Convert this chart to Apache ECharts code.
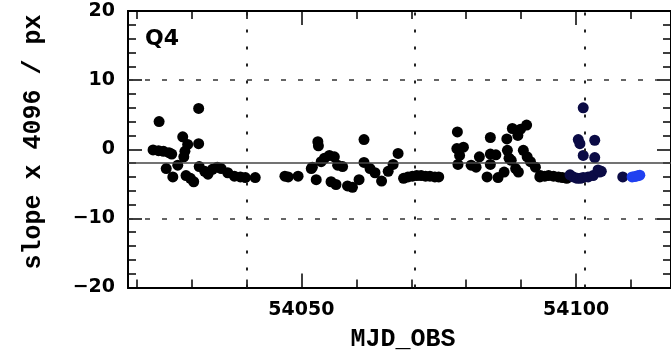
<!DOCTYPE html>
<html>
<head>
<meta charset="utf-8">
<script src="https://cdn.jsdelivr.net/npm/echarts@6/dist/echarts.min.js"></script>
<style>
  html, body { margin: 0; padding: 0; background: #fff; }
  #chart { width: 671px; height: 355px; }
</style>
</head>
<body>
<div id="chart"></div>
<script>
// slope measurements, black points
const blackMjd = [
  54023.0, 54024.0, 54024.1, 54024.9, 54025.9, 54025.4, 54026.6, 54026.4, 54027.5, 54028.4,
  54028.8, 54028.6, 54029.3, 54029.0, 54029.8, 54030.4, 54031.3, 54031.3, 54031.4, 54032.4,
  54033.0, 54033.8, 54034.7, 54035.4, 54036.6, 54037.8, 54038.9, 54039.8, 54041.6,
  54047.0, 54047.6, 54049.4, 54051.8, 54052.0, 54052.7, 54053.0, 54053.1, 54053.6, 54054.2,
  54055.1, 54056.0, 54056.6, 54057.5, 54055.4, 54056.3, 54058.4, 54059.3, 54060.5, 54061.4,
  54061.4, 54062.5, 54063.4, 54064.6, 54065.8, 54066.7, 54067.6,
  54068.6, 54069.4, 54070.2, 54071.0, 54071.8, 54072.6, 54073.4, 54074.3, 54075.0,
  54078.4, 54078.3, 54079.5, 54078.8, 54078.5, 54080.9, 54081.8, 54082.4, 54083.8, 54084.4,
  54084.4, 54084.4, 54085.4, 54085.8, 54086.9, 54087.4, 54087.5, 54087.8, 54088.4, 54089.4,
  54089.9, 54091.0, 54088.2, 54089.0, 54089.5, 54090.4, 54091.1, 54091.7, 54092.6, 54093.4,
  54093.5, 54094.3, 54095.0, 54095.9, 54096.8, 54097.5, 54098.3
];
const blackSlope = [
  -0.1, -0.2, 4.0, -0.3, -0.5, -2.8, -4.0, -0.7, -2.3, 1.8,
  -0.3, -1.1, 0.7, -3.8, -4.2, -4.7, 5.9, 0.8, -2.5, -3.2,
  -3.6, -2.9, -2.6, -2.8, -3.4, -3.9, -4.0, -4.1, -4.1,
  -3.9, -4.0, -3.9, -2.8, -2.6, -4.4, 1.1, 0.5, -1.8, -1.3,
  -0.9, -1.1, -2.3, -2.5, -4.7, -5.1, -5.3, -5.5, -4.4, 1.4,
  -1.9, -2.8, -3.4, -4.6, -3.2, -2.2, -0.6,
  -4.2, -4.0, -3.9, -3.8, -3.8, -3.9, -3.9, -4.0, -4.0,
  2.5, 0.1, 0.3, -0.9, -2.2, -2.3, -2.6, -1.1, -4.0, 1.7,
  -0.7, -2.2, -0.8, -4.1, -3.3, 1.5, -0.15, -1.3, 3.0, 2.0,
  2.9, 3.5, -1.6, -2.8, -3.3, -0.15, -1.1, -1.8, -2.6, -4.0,
  -3.8, -3.9, -3.8, -3.9, -4.0, -4.1, -4.2
];

// dark blue points around the turn of the year
const navyMjd = [
  54098.9, 54099.5, 54100.2, 54100.8, 54101.3, 54102.2, 54103.1, 54104.3, 54104.6,
  54101.3, 54100.4, 54100.7, 54101.3, 54103.4, 54103.4, 54104.0, 54108.5
];
const navySlope = [
  -3.7, -4.0, -4.2, -4.2, -4.1, -4.0, -3.8, -3.3, -3.2,
  6.0, 1.4, 0.8, -0.9, 1.3, -1.2, -3.0, -4.0
];

// bright blue points at the end
const blueMjd = [54110.2, 54110.7, 54111.2, 54111.6];
const blueSlope = [-4.0, -3.95, -3.85, -3.75];

const xMajorTicks = [54050, 54100];
const xMinorTicks = [54020, 54030, 54040, 54060, 54070, 54080, 54090, 54110];
const yTickValues = [-20, -10, 0, 10, 20];
const yTickLabels = ["\u221220", "\u221210", "0", "10", "20"];
const monthLines = [54040.1, 54070.6, 54101.6];
const dashedLevels = [-10, 10];
const medianSlope = -1.9;

const xMin = 54018.44;
const xMax = 54117.28;

const zip = (xs, ys) => xs.map((x, i) => [x, ys[i]]);

const el = document.getElementById("chart");
const chart = echarts.init(el, null, { renderer: "canvas" });

const labelFont = {
  color: "#000",
  fontFamily: "DejaVu Sans",
  fontWeight: "bold",
  fontSize: 19,
};

const frameLine = { show: true, onZero: false, lineStyle: { color: "#000", width: 2 } };

function xAxisDef(position, ticks, len, showLabels) {
  return {
    type: "value",
    position,
    min: xMin,
    max: xMax,
    axisLine: frameLine,
    axisTick: {
      show: true,
      inside: true,
      length: len,
      customValues: ticks,
      lineStyle: { color: "#000", width: 1.5 },
    },
    axisLabel: showLabels
      ? { show: true, customValues: ticks, margin: 13, formatter: (v) => String(Math.round(v)), ...labelFont }
      : { show: false },
    splitLine: { show: false },
  };
}

function yAxisDef(position, showLabels) {
  return {
    type: "value",
    position,
    min: -20,
    max: 20,
    interval: 10,
    axisLine: frameLine,
    axisTick: { show: true, inside: true, length: 14, lineStyle: { color: "#000", width: 1.5 } },
    minorTick: { show: true, splitNumber: 5, length: 8, lineStyle: { color: "#000", width: 1.5 } },
    axisLabel: showLabels
      ? {
          show: true,
          margin: 13,
          formatter: (v) => yTickLabels[yTickValues.indexOf(Math.round(v))] ?? "",
          ...labelFont,
        }
      : { show: false },
    splitLine: { show: false },
  };
}

const refLines = [
  ...monthLines.map((x) => ({ xAxis: x, lineStyle: { type: [3, 14], width: 2, color: "#222" } })),
  ...dashedLevels.map((y) => ({ yAxis: y, lineStyle: { type: [5, 12], width: 1.5, color: "#333" } })),
  { yAxis: medianSlope, lineStyle: { type: "solid", width: 1.5, color: "#444" } },
];

chart.setOption({
  animation: false,
  backgroundColor: "#fff",
  grid: { left: 128, top: 11, width: 549, height: 276.5 },
  xAxis: [
    xAxisDef("bottom", xMinorTicks, 8, false),
    xAxisDef("bottom", xMajorTicks, 14, true),
    xAxisDef("top", xMinorTicks, 8, false),
    xAxisDef("top", xMajorTicks, 14, false),
  ],
  yAxis: [yAxisDef("left", true), yAxisDef("right", false)],
  graphic: [
    {
      type: "text",
      left: 145,
      top: 28,
      style: { text: "Q4", fill: "#000", font: "bold 22px 'DejaVu Sans'" },
    },
    {
      type: "text",
      x: 403,
      y: 340,
      style: {
        text: "MJD_OBS",
        fill: "#000",
        font: "bold 25px 'Liberation Mono'",
        align: "center",
        verticalAlign: "middle",
      },
    },
    {
      type: "text",
      x: 34,
      y: 142,
      rotation: Math.PI / 2,
      style: {
        text: "slope x 4096 / px",
        fill: "#000",
        font: "bold 25px 'Liberation Mono'",
        align: "center",
        verticalAlign: "middle",
      },
    },
  ],
  series: [
    {
      type: "scatter",
      data: [],
      z: 1,
      markLine: { silent: true, symbol: "none", label: { show: false }, data: refLines },
    },
    {
      type: "scatter",
      data: zip(blackMjd, blackSlope),
      symbolSize: 11,
      z: 3,
      itemStyle: { color: "#000", opacity: 1 },
    },
    {
      type: "scatter",
      data: zip(navyMjd, navySlope),
      symbolSize: 11,
      z: 3,
      itemStyle: { color: "#0b0b45", opacity: 1 },
    },
    {
      type: "scatter",
      data: zip(blueMjd, blueSlope),
      symbolSize: 11,
      z: 3,
      itemStyle: { color: "#2040f0", opacity: 1 },
    },
  ],
});

window.addEventListener("resize", () => chart.resize());
</script>
</body>
</html>
